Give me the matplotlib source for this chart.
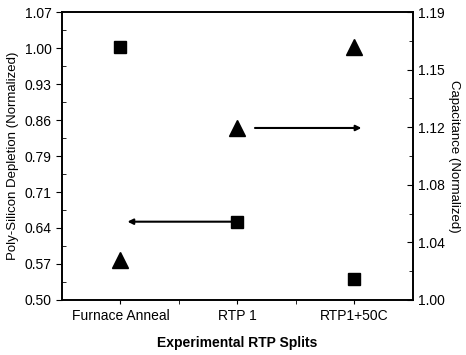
import numpy as np
import matplotlib
matplotlib.use("Agg")
import matplotlib.pyplot as plt

plt.rcParams['font.family'] = ['Liberation Sans', 'DejaVu Sans']

categories = ["Furnace Anneal", "RTP 1", "RTP1+50C"]
depletion = [1.00, 0.655, 0.542]
capacitance = [1.027, 1.115, 1.169]

left_ticks = ["0.50", "0.57", "0.64", "0.71", "0.79", "0.86", "0.93", "1.00", "1.07"]
right_ticks = ["1.00", "1.04", "1.08", "1.12", "1.15", "1.19"]

fig = plt.figure(figsize=(4.66, 3.55), dpi=100)
ax = fig.add_axes([0.133, 0.155, 0.753, 0.811])
ax2 = ax.twinx()
for a in (ax, ax2):
    for s in a.spines.values():
        s.set_linewidth(1.2)

x = np.arange(len(categories))
ax.plot(x, depletion, 's', color='black', markersize=9)
ax2.plot(x, capacitance, '^', color='black', markersize=11)

ax.set_xlim(-0.5, 2.5)
ax.set_ylim(0.50, 1.07)
ax2.set_ylim(1.00, 1.1925)

lpos = np.linspace(0.50, 1.07, len(left_ticks))
ax.set_yticks(lpos)
ax.set_yticklabels(left_ticks)
ax.set_yticks((lpos[:-1] + lpos[1:]) / 2, minor=True)
rpos = np.linspace(1.00, 1.1925, len(right_ticks))
ax2.set_yticks(rpos)
ax2.set_yticklabels(right_ticks)
ax2.set_yticks((rpos[:-1] + rpos[1:]) / 2, minor=True)

ax.set_xticks(x)
ax.set_xticklabels(categories)
ax.set_xticks([0.5, 1.5], minor=True)

ax.tick_params(axis='y', which='major', direction='out', length=4, labelsize=10)
ax.tick_params(axis='y', which='minor', direction='in', length=3)
ax.tick_params(axis='x', which='both', direction='out', length=3, labelsize=10)
ax2.tick_params(axis='y', which='major', direction='in', length=4, labelsize=10)
ax2.tick_params(axis='y', which='minor', direction='in', length=3)

ax.annotate("", xy=(0.06, 0.655), xytext=(0.96, 0.655),
            arrowprops=dict(arrowstyle='-|>', color='black', lw=1.5,
                            mutation_scale=8, shrinkA=0, shrinkB=0))
ax2.annotate("", xy=(2.06, 1.115), xytext=(1.15, 1.115),
             arrowprops=dict(arrowstyle='-|>', color='black', lw=1.5,
                             mutation_scale=8, shrinkA=0, shrinkB=0))

ax.set_ylabel("Poly-Silicon Depletion (Normalized)", fontsize=9.5)
ax2.set_ylabel("Capacitance (Normalized)", fontsize=9.5, rotation=270, labelpad=11)
ax.set_xlabel("Experimental RTP Splits", fontsize=10, fontweight='bold', labelpad=9)

fig.savefig("out.png", dpi=100)
